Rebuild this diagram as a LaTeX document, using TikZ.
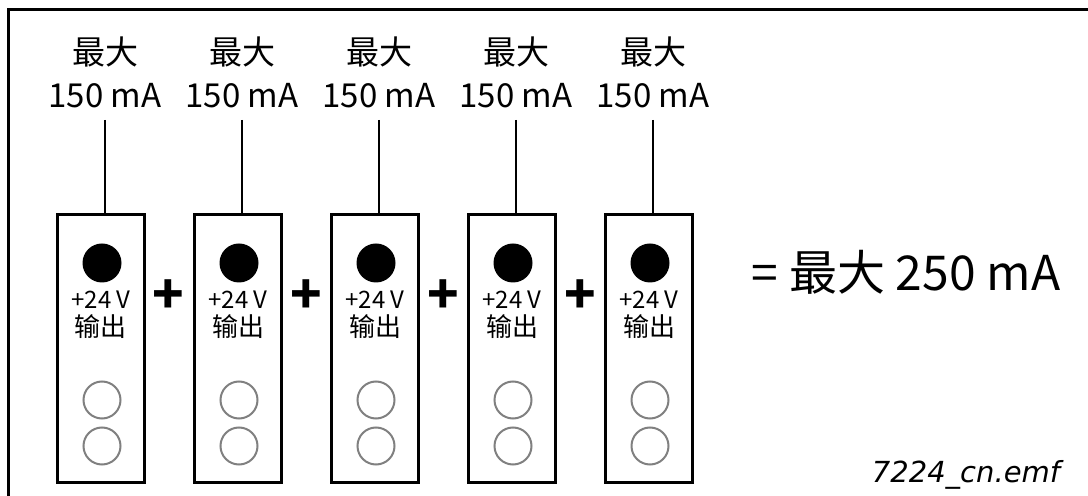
\documentclass[tikz,border=0pt]{standalone}
\usepackage{fontspec}
\setmainfont{Noto Sans CJK SC}
\newfontfamily\figfont{DejaVu Sans}
\usetikzlibrary{positioning}

\begin{document}
\begin{tikzpicture}[x=0.5pt, y=-0.5pt,
    frm/.style={line width=1.25pt},
    modbox/.style={rectangle, draw, line width=1.5pt, minimum width=43.5pt,
      minimum height=134pt, inner sep=0pt},
    lbl/.style={align=center, inner sep=0pt, inner ysep=6pt,
      font=\fontsize{16.5}{21.5}\selectfont},
    wire/.style={line width=1.4pt},
    pin/.style={circle, fill=black, minimum size=19.5pt, inner sep=0pt},
    hole/.style={circle, draw=black!50, line width=1pt, minimum size=18.5pt, inner sep=0pt},
    volt/.style={font=\fontsize{12}{13}\selectfont, inner sep=0pt},
    outp/.style={font=\fontsize{13}{14}\selectfont, inner sep=0pt},
    plus/.style={font=\fontsize{26}{26}\bfseries\selectfont, inner sep=0pt}
  ]
    \useasboundingbox (0,0) rectangle (1088,496);
    \clip (0,0) rectangle (1088,496);

    % Frame
    \draw[frm] (8.5,9.5) rectangle (1120,530);

    % Module 1
    \node[modbox] (m1) at (101,348.5) {};
    \node[lbl, anchor=south] (t1) at (105,120) {最大\\150 mA};
    \node[pin]  (d1) at (102,263) {};
    \node[volt] (v1) at (101,300) {+24 V};
    \node[outp] (o1) at (101,327) {输出};
    \node[hole] (ha1) at (102,400) {};
    \node[hole] (hb1) at (102,446) {};

    % Module 2
    \node[modbox] (m2) at (238,348.5) {};
    \node[lbl, anchor=south] (t2) at (242,120) {最大\\150 mA};
    \node[pin]  (d2) at (239,263) {};
    \node[volt] (v2) at (238,300) {+24 V};
    \node[outp] (o2) at (238,327) {输出};
    \node[hole] (ha2) at (239,400) {};
    \node[hole] (hb2) at (239,446) {};

    % Module 3
    \node[modbox] (m3) at (375,348.5) {};
    \node[lbl, anchor=south] (t3) at (379,120) {最大\\150 mA};
    \node[pin]  (d3) at (376,263) {};
    \node[volt] (v3) at (375,300) {+24 V};
    \node[outp] (o3) at (375,327) {输出};
    \node[hole] (ha3) at (376,400) {};
    \node[hole] (hb3) at (376,446) {};

    % Module 4
    \node[modbox] (m4) at (512,348.5) {};
    \node[lbl, anchor=south] (t4) at (516,120) {最大\\150 mA};
    \node[pin]  (d4) at (513,263) {};
    \node[volt] (v4) at (512,300) {+24 V};
    \node[outp] (o4) at (512,327) {输出};
    \node[hole] (ha4) at (513,400) {};
    \node[hole] (hb4) at (513,446) {};

    % Module 5
    \node[modbox] (m5) at (649,348.5) {};
    \node[lbl, anchor=south] (t5) at (653,120) {最大\\150 mA};
    \node[pin]  (d5) at (650,263) {};
    \node[volt] (v5) at (649,300) {+24 V};
    \node[outp] (o5) at (649,327) {输出};
    \node[hole] (ha5) at (650,400) {};
    \node[hole] (hb5) at (650,446) {};

    % Wires
    \draw[wire] (t1.south) -- (t1.south |- m1.north);
    \draw[wire] (t2.south) -- (t2.south |- m2.north);
    \draw[wire] (t3.south) -- (t3.south |- m3.north);
    \draw[wire] (t4.south) -- (t4.south |- m4.north);
    \draw[wire] (t5.south) -- (t5.south |- m5.north);

    % Plus signs
    \node[plus] (p1) at (168,297) {+};
    \node[plus] (p2) at (306,297) {+};
    \node[plus] (p3) at (443,297) {+};
    \node[plus] (p4) at (580,297) {+};

    % Total
    \node[font=\fontsize{24}{25}\selectfont] (sum) at (906,272) {= 最大 250 mA};
    \node[font=\figfont\itshape\fontsize{14.5}{15}\selectfont] (fn) at (966,475) {7224\_cn.emf};
  \end{tikzpicture}
\end{document}
